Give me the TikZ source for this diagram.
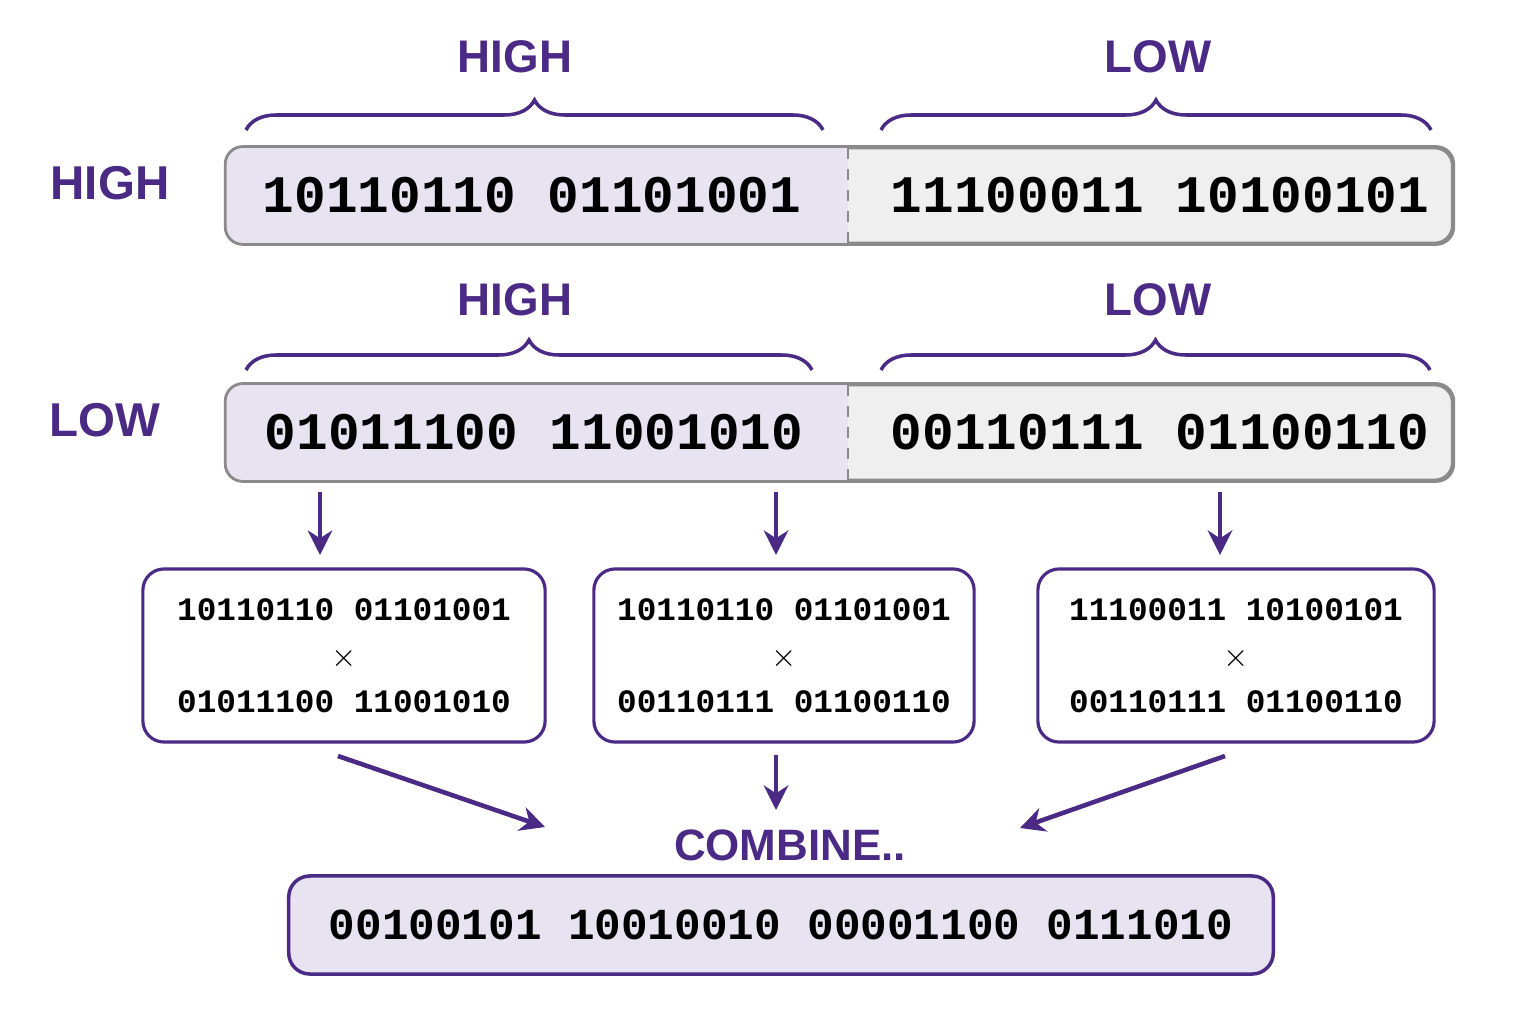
\documentclass[tikz,border=0pt]{standalone}
\usepackage{fontspec}
\setmainfont{Liberation Sans}
\setmonofont{Liberation Mono}
\usetikzlibrary{calc,arrows.meta,decorations.pathreplacing}
\definecolor{purp}{HTML}{4A2A85}
\definecolor{lav}{HTML}{E8E3F1}
\definecolor{greyfill}{HTML}{EFEFEF}
\definecolor{greyline}{HTML}{8A8A8A}
\tikzset{
  heading/.style={text=purp, font=\bfseries\fontsize{13}{13}\selectfont},
  rowlabel/.style={text=purp, font=\bfseries\fontsize{13.5}{13.5}\selectfont},
  bits/.style={font=\ttfamily\bfseries\fontsize{15}{15}\selectfont, inner sep=0pt},
  bar/.style={rectangle, draw=greyline, line width=0.8pt, fill=greyfill, rounded corners=5pt, minimum height=0.95cm},
  product/.style={rectangle, draw=purp, line width=0.9pt, fill=white, rounded corners=6pt, align=center, inner sep=0pt, font=\ttfamily\bfseries\fontsize{9.3}{13}\selectfont},
  bracket/.style={draw=purp, line width=1pt, decorate, decoration={brace, amplitude=0.3cm}},
  connector/.style={draw=purp, line width=1.3pt, -{Stealth[length=7pt,width=7pt]}}
}
\begin{document}
\begin{tikzpicture}[x=0.01cm, y=-0.01cm]
  \useasboundingbox (0,0) rectangle (1536,1024);
  % top row
  \node (bar1) [bar, minimum width=12.25cm] at (839.5,195.5) {};
  \begin{scope}
    \clip[rounded corners=5pt] (bar1.south west) rectangle (bar1.north east);
    \fill[lav] (bar1.south west) rectangle (848,148);
  \end{scope}
  \draw[greyline, line width=0.8pt, rounded corners=5pt] (bar1.south west) rectangle (bar1.north east);
  \draw[greyline, dashed, line width=0.7pt] (848,148) -- (848,243);
  \node (rowhigh) [rowlabel] at (110,183) {HIGH};
  \node (bits1h) [bits] at (532,195) {10110110 01101001};
  \node (bits1l) [bits] at (1160,195) {11100011 10100101};
  \node (head1h) [heading] at (515,57) {HIGH};
  \node (head1l) [heading] at (1158,57) {LOW};
  \draw[bracket] (246,130) -- (823,130);
  \draw[bracket] (881,130) -- (1431,130);
  % second row
  \node (bar2) [bar, minimum width=12.25cm] at (839.5,432.5) {};
  \begin{scope}
    \clip[rounded corners=5pt] (bar2.south west) rectangle (bar2.north east);
    \fill[lav] (bar2.south west) rectangle (848,385);
  \end{scope}
  \draw[greyline, line width=0.8pt, rounded corners=5pt] (bar2.south west) rectangle (bar2.north east);
  \draw[greyline, dashed, line width=0.7pt] (848,385) -- (848,480);
  \node (rowlow) [rowlabel] at (105,420) {LOW};
  \node (bits2h) [bits] at (534,432) {01011100 11001010};
  \node (bits2l) [bits] at (1160,432) {00110111 01100110};
  \node (head2h) [heading] at (515,300) {HIGH};
  \node (head2l) [heading] at (1158,300) {LOW};
  \draw[bracket] (246,370) -- (812,370);
  \draw[bracket] (881,370) -- (1430,370);
  % partial products
  \node (pa) [product, minimum width=4.02cm, minimum height=1.73cm] at (344,655.5) {10110110 01101001\\$\times$\\01011100 11001010};
  \node (pb) [product, minimum width=3.80cm, minimum height=1.73cm] at (784,655.5) {10110110 01101001\\$\times$\\00110111 01100110};
  \node (pc) [product, minimum width=3.96cm, minimum height=1.73cm] at (1236,655.5) {11100011 10100101\\$\times$\\00110111 01100110};
  \coordinate (sa) at (320,492);
  \coordinate (sb) at (776,492);
  \coordinate (sc) at (1220,492);
  \draw[connector] (sa) -- (320,555);
  \draw[connector] (sb) -- (776,555);
  \draw[connector] (sc) -- (1220,555);
  % combine
  \node (combine) [heading, font=\bfseries\fontsize{12.5}{12.5}\selectfont] at (790,845) {COMBINE..};
  \node (result) [rectangle, draw=purp, line width=1pt, fill=lav, rounded corners=6pt, minimum width=9.84cm, minimum height=0.98cm] at (781,925) {};
  \node (resbits) [bits, font=\ttfamily\bfseries\fontsize{12.6}{12.6}\selectfont] at (result) {00100101 10010010 00001100 0111010};
  \coordinate (ea) at (545,827);
  \coordinate (eb) at (776,810);
  \coordinate (ec) at (1020,828);
  \draw[connector] (338,756) -- (ea);
  \draw[connector] (776,755) -- (eb);
  \draw[connector] (1225,756) -- (ec);
\end{tikzpicture}
\end{document}
